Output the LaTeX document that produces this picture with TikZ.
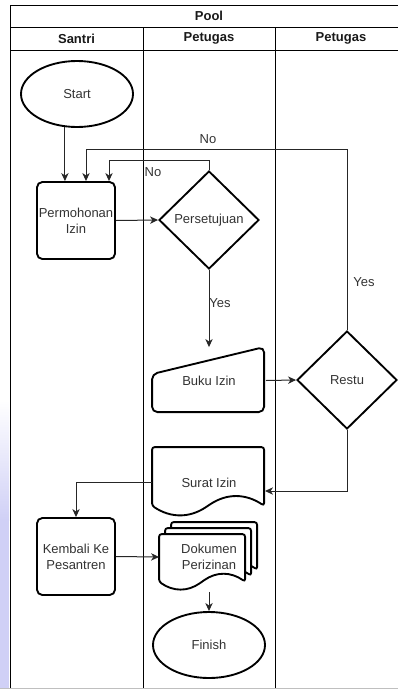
\documentclass[tikz,border=0pt]{standalone}
\usepackage{fontspec}
\setmainfont{Liberation Sans}
\usetikzlibrary{shapes.geometric,arrows.meta,calc,backgrounds}
\definecolor{txt}{HTML}{333333}
\definecolor{lav}{RGB}{208,208,246}
\newcommand{\mydoc}[5][]{%
  \pgfmathsetmacro\mdDy{0.3*#5}%
  \pgfmathsetmacro\mdYb{#3+#5-\mdDy/2}%
  \pgfmathsetmacro\mdYu{\mdYb-0.6*\mdDy}%
  \pgfmathsetmacro\mdYd{\mdYb+0.6*\mdDy}%
  \draw[#1] (#2,\mdYb) -- (#2,#3) -- ({#2+#4},#3) -- ({#2+#4},\mdYb)
    .. controls ({#2+5*#4/6},\mdYu) and ({#2+2*#4/3},\mdYu) .. ({#2+#4/2},\mdYb)
    .. controls ({#2+#4/3},\mdYd) and ({#2+#4/6},\mdYd) .. (#2,\mdYb) -- cycle;%
}
\begin{document}
\begin{tikzpicture}[x=0.75pt,y=-0.75pt,
  lane/.style={line width=0.75pt, draw=black},
  hdr/.style={font=\fontsize{9.75}{12}\selectfont\bfseries, text=black!90, inner sep=0pt},
  shapeline/.style={draw=black, line width=1.4pt, fill=white},
  shp/.style={shapeline, text=txt, font=\fontsize{9.75}{12}\selectfont, align=center, inner sep=0pt},
  term/.style={shp, ellipse, minimum width=84pt, minimum height=49.5pt},
  proc/.style={shp, rectangle, rounded corners=4pt, minimum width=58.5pt, minimum height=57.75pt},
  dec/.style={shp, diamond, minimum width=75pt, minimum height=73.5pt},
  ghost/.style={inner sep=0pt, outer sep=0.7pt, text=txt, font=\fontsize{9.75}{12}\selectfont, align=center},
  conn/.style={line width=0.75pt, draw=black!85, -{Stealth[length=6pt,width=5.5pt,inset=1.8pt]}},
  lbl/.style={text=txt, font=\fontsize{9.75}{12}\selectfont, inner sep=0pt}
]
\useasboundingbox (0,0) rectangle (398,689);

% screenshot artefact at the left edge
\shade[top color=white, bottom color=lav] (0,400) rectangle (9,520);
\fill[lav] (0,520) rectangle (9,689);

% pool and lanes
\draw[lane] (10,5) -- (400,5);
\draw[lane] (10,27) -- (400,27);
\draw[lane] (10,50) -- (400,50);
\draw[lane] (10,5) -- (10,689);
\draw[lane] (143,27) -- (143,689);
\draw[lane] (275,27) -- (275,689);
\draw[black!25, line width=0.75pt] (0,688) -- (400,688);

\node[hdr] (pool) at (209,16) {Pool};
\node[hdr] (l1) at (76.5,38.5) {Santri};
\node[hdr] (l2) at (209,38.5) {Petugas};
\node[hdr] (l3) at (341,38.5) {Petugas};

% nodes
\node[term] (start) at (77,94) {Start};
\node[proc] (perm) at (76,220.5) {Permohonan\\Izin};
\node[dec] (pers) at (209,220) {Persetujuan};
\node[ghost, minimum width=84pt, minimum height=48.75pt] (buku) at (209,380.5) {Buku Izin};
\node[dec] (restu) at (347,380) {Restu};
\node[ghost, minimum width=84pt, minimum height=51.75pt] (surat) at (209,482.5) {Surat Izin};
\node[proc] (kemb) at (76,556.5) {Kembali Ke\\Pesantren};
\node[ghost, minimum width=73.5pt, minimum height=51pt] (dok) at (209,557) {Dokumen\\Perizinan};
\node[term] (finish) at (209,645) {Finish};

% custom outlines
\begin{scope}[on background layer]
  \begin{scope}[shift={(buku.north west)}]
    \draw[shapeline, rounded corners=4pt] (0,27) -- (112,0) -- (112,65) -- (0,65) -- cycle;
  \end{scope}
  \begin{scope}[shift={(surat.north west)}]
    \mydoc[shapeline, rounded corners=2pt]{0}{0}{112}{69}
  \end{scope}
  \begin{scope}[shift={(dok.north west)}]
    \mydoc[shapeline, rounded corners=2pt]{12}{0}{86}{56}
    \mydoc[shapeline, rounded corners=2pt]{6}{6}{86}{56}
    \mydoc[shapeline, rounded corners=2pt]{0}{12}{86}{56}
  \end{scope}
\end{scope}

% routing points
\coordinate (noA) at (86,149);
\coordinate (noB) at (109,160);
\coordinate (surin) at (265,491);

% connectors
\draw[conn] (start.-110) -- (start.-110 |- perm.north);
\draw[conn] (restu.north) |- (noA) -- (noA |- perm.north);
\draw[conn] (pers.north) |- (noB) -- (noB |- perm.north);
\draw[conn] (perm.east) -- (pers.west);
\draw[conn] (pers.south) -- (buku.north);
\draw[conn] (buku.east) -- (restu.west);
\draw[conn] (restu.south) |- (surin);
\draw[conn] (surat.west) -| (kemb.north);
\draw[conn] (kemb.east) -- (dok.west);
\draw[conn] (dok.south) -- (finish.north);

% labels
\node[lbl] (lno1) at (208,139) {No};
\node[lbl] (lno2) at (153,172) {No};
\node[lbl] (lyes1) at (220,303) {Yes};
\node[lbl] (lyes2) at (364,282) {Yes};
\end{tikzpicture}
\end{document}
